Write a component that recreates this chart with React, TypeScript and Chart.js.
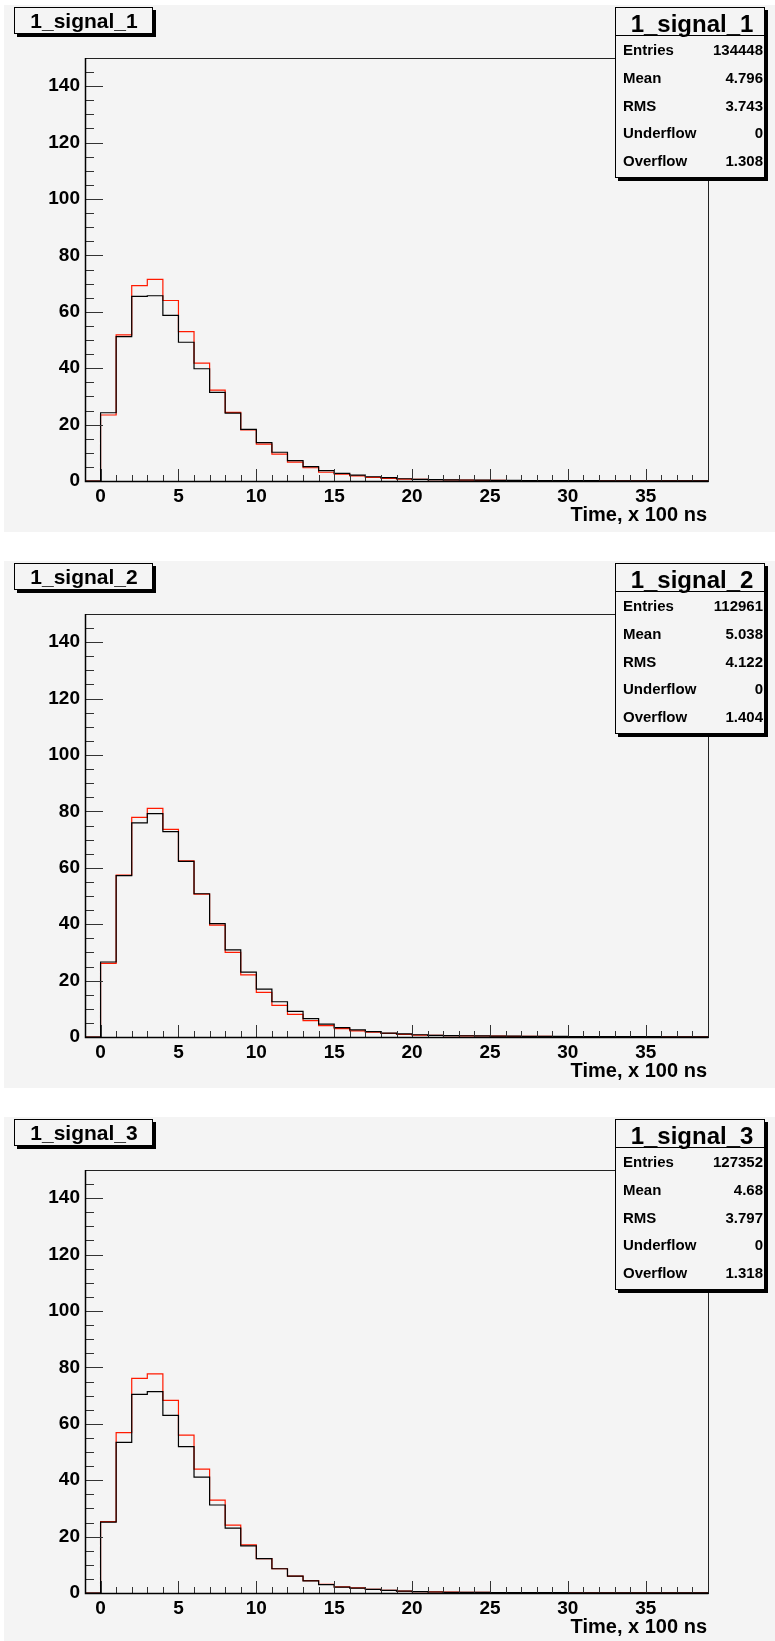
import { useEffect, useRef } from "react";
import { Chart, registerables } from "chart.js";

Chart.register(...registerables);

// Histogram binning: 40 bins of width 1 from -1 to 39 (Time, x 100 ns)
const BIN_EDGES = [
  -1, 0, 1, 2, 3, 4, 5, 6, 7, 8, 9, 10, 11, 12, 13, 14, 15, 16, 17, 18, 19,
  20, 21, 22, 23, 24, 25, 26, 27, 28, 29, 30, 31, 32, 33, 34, 35, 36, 37, 38, 39,
];
const X_TICKS = [0, 5, 10, 15, 20, 25, 30, 35];
const Y_TICKS = [0, 20, 40, 60, 80, 100, 120, 140];
const X_MIN = -1;
const X_MAX = 39;
const Y_MIN = 0;
const Y_MAX = 150;
const X_TITLE = "Time, x 100 ns";

// Bin contents for bins [0,1) ... [38,39); bin [-1,0) is empty
const signal1Red = [
  23.4, 51.8, 69.3, 71.5, 64.0, 53.0, 41.8, 32.2, 24.3, 18.1, 13.1, 9.5, 6.7, 4.7, 3.1, 2.4, 1.8, 1.3, 0.95,
  0.7, 0.55, 0.45, 0.35, 0.3, 0.25, 0.2, 0.18, 0.15, 0.13, 0.11, 0.1, 0.09, 0.08, 0.07, 0.06, 0.05, 0.05, 0.04, 0.04,
];
const signal1Black = [
  24.2, 51.2, 65.5, 65.7, 58.7, 49.2, 39.8, 31.4, 24.1, 18.3, 13.6, 10.2, 7.2, 5.1, 3.7, 2.7, 2.1, 1.5, 1.2,
  0.8, 0.6, 0.5, 0.4, 0.35, 0.3, 0.25, 0.2, 0.18, 0.15, 0.13, 0.11, 0.1, 0.09, 0.08, 0.07, 0.06, 0.05, 0.05, 0.04,
];
const signal2Red = [
  26.1, 57.4, 77.9, 81.1, 73.6, 62.5, 50.7, 39.7, 30.0, 22.0, 15.8, 11.2, 8.0, 5.8, 4.0, 3.0, 2.2, 1.7, 1.3,
  0.95, 0.7, 0.55, 0.45, 0.4, 0.35, 0.3, 0.25, 0.22, 0.2, 0.18, 0.16, 0.14, 0.12, 0.11, 0.1, 0.09, 0.08, 0.07, 0.06,
];
const signal2Black = [
  26.6, 57.2, 75.9, 79.2, 72.8, 62.3, 50.8, 40.2, 30.9, 23.0, 17.0, 12.5, 9.1, 6.5, 4.6, 3.3, 2.5, 1.9, 1.4,
  1.1, 0.8, 0.6, 0.5, 0.45, 0.4, 0.33, 0.28, 0.25, 0.22, 0.2, 0.18, 0.16, 0.14, 0.12, 0.11, 0.1, 0.09, 0.08, 0.07,
];
const signal3Red = [
  25.3, 56.9, 76.1, 77.7, 68.3, 56.0, 43.9, 32.9, 24.1, 17.1, 12.2, 8.6, 6.0, 4.4, 3.1, 2.2, 1.8, 1.3, 0.95,
  0.7, 0.5, 0.38, 0.3, 0.25, 0.2, 0.17, 0.15, 0.13, 0.11, 0.1, 0.09, 0.08, 0.07, 0.06, 0.05, 0.05, 0.04, 0.04, 0.03,
];
const signal3Black = [
  25.1, 53.4, 70.4, 71.4, 63.0, 51.9, 41.1, 31.2, 23.0, 16.7, 12.2, 8.6, 6.0, 4.3, 3.0, 2.1, 1.7, 1.3, 0.95,
  0.7, 0.5, 0.35, 0.25, 0.22, 0.2, 0.17, 0.15, 0.13, 0.11, 0.1, 0.09, 0.08, 0.07, 0.06, 0.05, 0.05, 0.04, 0.04, 0.03,
];

const PANEL_NAMES = ["1_signal_1", "1_signal_2", "1_signal_3"];
const STAT_LABELS = ["Entries", "Mean", "RMS", "Underflow", "Overflow"];
const signal1Stats = ["134448", "4.796", "3.743", "0", "1.308"];
const signal2Stats = ["112961", "5.038", "4.122", "0", "1.404"];
const signal3Stats = ["127352", "4.68", "3.797", "0", "1.318"];

const PANELS = [
  { name: PANEL_NAMES[0], red: signal1Red, black: signal1Black, stats: signal1Stats },
  { name: PANEL_NAMES[1], red: signal2Red, black: signal2Black, stats: signal2Stats },
  { name: PANEL_NAMES[2], red: signal3Red, black: signal3Black, stats: signal3Stats },
];

const FONT = '"Liberation Sans", Arial, Helvetica, sans-serif';
const PANEL_W = 771;
const PANEL_H = 527;
const PANEL_BG = "#f4f4f4";

// Step-line points: each point sits on a bin's upper edge and carries that bin's content,
// so with stepped "after" the level spans the whole bin.
function histPoints(values: number[]) {
  const pts = [
    { x: BIN_EDGES[0], y: 0 },
    { x: BIN_EDGES[1], y: 0 },
  ];
  values.forEach((v, i) => pts.push({ x: BIN_EDGES[i + 2], y: v }));
  return pts;
}

function drawBoxWithShadow(ctx: CanvasRenderingContext2D, l: number, t: number, r: number, b: number) {
  ctx.fillStyle = "#000";
  ctx.fillRect(l + 3, t + 3, r - l, b - t);
  ctx.fillStyle = PANEL_BG;
  ctx.fillRect(l, t, r - l, b - t);
  ctx.strokeStyle = "#000";
  ctx.lineWidth = 1;
  ctx.strokeRect(l + 0.5, t + 0.5, r - l - 1, b - t - 1);
}

const rootPadPlugin = {
  id: "rootPad",
  afterDraw(chart: any, _args: any, opts: any) {
    const { ctx, chartArea: a, scales } = chart;
    const xs = scales.x;
    const ys = scales.y;
    ctx.save();

    // frame
    ctx.strokeStyle = "#222";
    ctx.lineWidth = 1;
    ctx.strokeRect(a.left + 0.5, a.top + 0.5, a.right - a.left, a.bottom - a.top);

    // x ticks (inside, pointing up)
    ctx.strokeStyle = "#333";
    ctx.beginPath();
    for (let v = X_MIN; v < X_MAX; v += 1) {
      const px = Math.round(xs.getPixelForValue(v)) + 0.5;
      const len = v % 5 === 0 ? 12 : 6;
      ctx.moveTo(px, a.bottom);
      ctx.lineTo(px, a.bottom - len);
    }
    // y ticks (inside, pointing right)
    for (let v = Y_MIN; v < Y_MAX; v += 5) {
      const py = Math.round(ys.getPixelForValue(v)) + 0.5;
      const len = v % 20 === 0 ? 18 : 9;
      ctx.moveTo(a.left, py);
      ctx.lineTo(a.left + len, py);
    }
    ctx.stroke();

    // axis lines
    ctx.strokeStyle = "#000";
    ctx.lineWidth = 1.5;
    ctx.beginPath();
    ctx.moveTo(a.left + 0.5, a.top);
    ctx.lineTo(a.left + 0.5, a.bottom + 0.5);
    ctx.lineTo(a.right + 0.5, a.bottom + 0.5);
    ctx.stroke();

    // axis title
    ctx.fillStyle = "#000";
    ctx.font = `bold 20px ${FONT}`;
    ctx.textAlign = "right";
    ctx.textBaseline = "alphabetic";
    ctx.fillText(X_TITLE, a.right - 1, 516);

    // histogram title box
    drawBoxWithShadow(ctx, 10, 2, 149, 29);
    ctx.fillStyle = "#000";
    ctx.font = `bold 21px ${FONT}`;
    ctx.textAlign = "center";
    ctx.fillText(opts.name, 80, 23);

    // statistics box
    const L = 611, T = 2, R = 761, B = 173;
    drawBoxWithShadow(ctx, L, T, R, B);
    ctx.strokeStyle = "#000";
    ctx.lineWidth = 1;
    ctx.beginPath();
    ctx.moveTo(L, 30.5);
    ctx.lineTo(R, 30.5);
    ctx.stroke();
    ctx.fillStyle = "#000";
    ctx.font = `bold 24px ${FONT}`;
    ctx.textAlign = "center";
    ctx.fillText(opts.name, (L + R) / 2 + 2, 27);
    ctx.font = `bold 15px ${FONT}`;
    STAT_LABELS.forEach((label: string, i: number) => {
      const yb = 50 + i * 27.8;
      ctx.textAlign = "left";
      ctx.fillText(label, L + 8, yb);
      ctx.textAlign = "right";
      ctx.fillText(opts.stats[i], R - 2, yb);
    });

    ctx.restore();
  },
};

function HistPanel({ panel, top }: { panel: any; top: number }) {
  const ref = useRef<HTMLCanvasElement | null>(null);

  useEffect(() => {
    if (!ref.current) return;
    const tickFont = { family: FONT, size: 19, weight: "bold" as const };
    const chart = new Chart(ref.current, {
      type: "line",
      data: {
        datasets: [
          {
            label: "black",
            data: histPoints(panel.black),
            borderColor: "#000000",
            borderWidth: 1.2,
            stepped: "after",
            pointRadius: 0,
            fill: false,
            order: 0,
          },
          {
            label: "red",
            data: histPoints(panel.red),
            borderColor: "#ff1a00",
            borderWidth: 1.2,
            stepped: "after",
            pointRadius: 0,
            fill: false,
            order: 1,
          },
        ],
      },
      options: {
        responsive: false,
        animation: false,
        devicePixelRatio: 1,
        parsing: false,
        layout: { padding: { left: 0, top: 53, right: 67, bottom: 0 } },
        plugins: {
          legend: { display: false },
          tooltip: { enabled: false },
          rootPad: { name: panel.name, stats: panel.stats },
        } as any,
        scales: {
          x: {
            type: "linear",
            min: X_MIN,
            max: X_MAX,
            grid: { display: false, drawTicks: false },
            border: { display: false },
            ticks: { color: "#000", font: tickFont, padding: 4, maxRotation: 0 },
            afterBuildTicks: (s: any) => {
              s.ticks = X_TICKS.map((v) => ({ value: v }));
            },
            afterFit: (s: any) => {
              s.height = 51;
            },
          },
          y: {
            type: "linear",
            min: Y_MIN,
            max: Y_MAX,
            grid: { display: false, drawTicks: false },
            border: { display: false },
            ticks: { color: "#000", font: tickFont, padding: 5 },
            afterBuildTicks: (s: any) => {
              s.ticks = Y_TICKS.map((v) => ({ value: v }));
            },
            afterFit: (s: any) => {
              s.width = 81;
            },
          },
        },
      } as any,
      plugins: [rootPadPlugin],
    });
    return () => chart.destroy();
  }, [panel]);

  return (
    <canvas
      ref={ref}
      width={PANEL_W}
      height={PANEL_H}
      style={{ position: "absolute", left: 4, top, width: PANEL_W, height: PANEL_H, background: PANEL_BG }}
    />
  );
}

export default function App() {
  return (
    <div
      style={{
        position: "absolute",
        left: 0,
        top: 0,
        width: 775,
        height: 1641,
        overflow: "hidden",
        background: "#ffffff",
      }}
    >
      {PANELS.map((p, i) => (
        <HistPanel key={p.name} panel={p} top={5 + 556 * i} />
      ))}
    </div>
  );
}
